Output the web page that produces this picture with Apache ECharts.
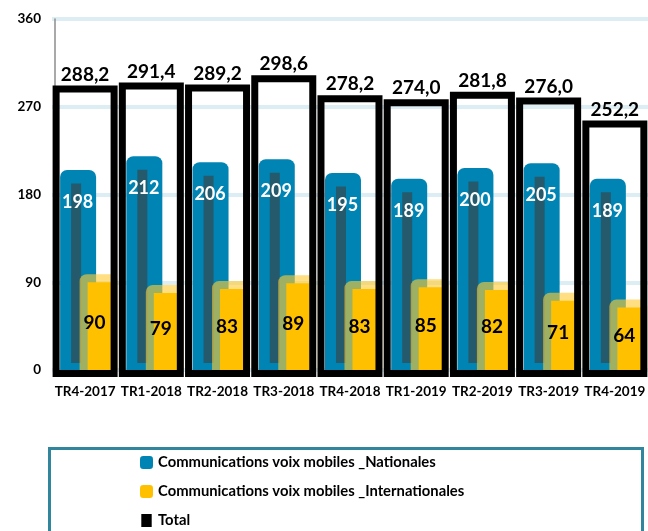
<!DOCTYPE html>
<html>
<head>
<meta charset="utf-8">
<script src="https://cdn.jsdelivr.net/npm/echarts@6/dist/echarts.min.js"></script>
<style>
  html, body { margin: 0; padding: 0; background: #fff; }
  #chart { width: 648px; height: 531px; }
</style>
</head>
<body>
<div id="chart"></div>
<script>
// ---- data ----
const categories = ['TR4-2017','TR1-2018','TR2-2018','TR3-2018','TR4-2018','TR1-2019','TR2-2019','TR3-2019','TR4-2019'];
const nationales = [198, 212, 206, 209, 195, 189, 200, 205, 189];
const internationales = [90, 79, 83, 89, 83, 85, 82, 71, 64];
const total = [288.2, 291.4, 289.2, 298.6, 278.2, 274.0, 281.8, 276.0, 252.2];
const yTicks = { min: 0, max: 360, interval: 90 };
const seriesNames = ['Communications voix mobiles _Nationales', 'Communications voix mobiles _Internationales', 'Total'];

const FONT = 'Lato';
const BLUE = '#0084B4';
const YELLOW = '#FFC000';
const chart = echarts.init(document.getElementById('chart'), null, { renderer: 'canvas' });

function fmtTotal(v) { return v.toFixed(1).replace('.', ','); }

function renderNat(params, api) {
  const i = api.value(0), v = api.value(1);
  const t = api.coord([i, v]);
  const b = api.coord([i, 0]);
  const c = t[0];
  return {
    type: 'group',
    children: [
      { type: 'rect', shape: { x: c - 25, y: t[1] - 7, width: 36, height: b[1] - t[1] + 7, r: [7, 7, 0, 0] },
        style: { fill: BLUE } },
      { type: 'rect', shape: { x: c - 14, y: t[1] + 6.5, width: 10, height: b[1] - t[1] - 13.5 },
        style: { fill: '#245A6C' } },
      { type: 'text', z2: 10, style: { text: String(v), x: c - 7.5, y: t[1] + 25, align: 'center', verticalAlign: 'middle',
        font: 'bold 18px ' + FONT, fill: '#fff' } }
    ]
  };
}

function renderIntl(params, api) {
  const i = api.value(0), v = api.value(1);
  const t = api.coord([i, v]);
  const b = api.coord([i, 0]);
  const c = t[0];
  return {
    type: 'group',
    children: [
      { type: 'rect', shape: { x: c - 5.5, y: t[1] - 8, width: 38, height: b[1] - t[1] + 8, r: [7, 7, 0, 0] },
        style: { fill: 'rgba(255,204,51,0.62)' } },
      { type: 'rect', shape: { x: c + 2.5, y: t[1], width: 24, height: b[1] - t[1] },
        style: { fill: YELLOW } },
      { type: 'text', z2: 10, style: { text: String(v), x: c + 9.5, y: (t[1] + b[1]) / 2 - 3, align: 'center', verticalAlign: 'middle',
        font: 'bold 19px ' + FONT, fill: '#000' } }
    ]
  };
}

function renderTotal(params, api) {
  const i = api.value(0), v = api.value(1);
  const t = api.coord([i, v]);
  const b = api.coord([i, 0]);
  const c = t[0];
  return {
    type: 'group',
    children: [
      { type: 'rect', shape: { x: c - 29, y: t[1], width: 58, height: b[1] - t[1] + 3.5 },
        style: { fill: 'none', stroke: '#000', lineWidth: 7 } },
      { type: 'text', z2: 10, style: { text: fmtTotal(v), x: c, y: t[1] - 5, align: 'center', verticalAlign: 'bottom',
        font: 'bold 19px ' + FONT, fill: '#000' } }
    ]
  };
}

chart.setOption({
  animation: false,
  backgroundColor: '#fff',
  grid: { left: 52, top: 19, width: 602, height: 351 },
  xAxis: {
    type: 'category', data: categories,
    axisLine: { show: false }, axisTick: { show: false },
    axisLabel: { fontFamily: FONT, fontWeight: 'bold', fontSize: 13.5, color: '#000', margin: 15, interval: 0 }
  },
  yAxis: {
    type: 'value', min: yTicks.min, max: yTicks.max, interval: yTicks.interval,
    offset: -3,
    axisLine: { show: true, lineStyle: { color: '#8c8c8c', width: 1.5 } },
    axisTick: { show: false },
    axisLabel: { fontFamily: FONT, fontWeight: 'bold', fontSize: 13.5, color: '#000', margin: 14 },
    splitLine: { show: true, lineStyle: { color: '#DCEEF4', width: 4 } }
  },
  legend: {
    orient: 'vertical',
    left: 135, top: 450, height: 120,
    itemWidth: 13, itemHeight: 13, itemGap: 14,
    selectedMode: false,
    textStyle: { fontFamily: FONT, fontWeight: 'bold', fontSize: 14.8, color: '#000' },
    data: [
      { name: seriesNames[0], icon: 'roundRect', itemStyle: { color: BLUE, borderWidth: 0 } },
      { name: seriesNames[1], icon: 'roundRect', itemStyle: { color: YELLOW, borderWidth: 0 } },
      { name: seriesNames[2], icon: 'path://M0,0H8V10H0Z', itemStyle: { color: '#000', borderWidth: 0 } }
    ]
  },
  graphic: [
    {
      type: 'rect', left: 47, top: 446, z: -1, silent: true,
      shape: { width: 593, height: 120 },
      style: { fill: 'none', stroke: '#31859C', lineWidth: 3 }
    }
  ],
  series: [
    {
      name: seriesNames[0], type: 'custom', z: 2, silent: true,
      itemStyle: { color: BLUE },
      data: nationales.map((v, i) => [i, v]),
      encode: { x: 0, y: 1 },
      renderItem: renderNat
    },
    {
      name: seriesNames[1], type: 'custom', z: 3, silent: true,
      itemStyle: { color: YELLOW },
      data: internationales.map((v, i) => [i, v]),
      encode: { x: 0, y: 1 },
      renderItem: renderIntl
    },
    {
      name: seriesNames[2], type: 'custom', z: 4, silent: true,
      itemStyle: { color: '#000' },
      data: total.map((v, i) => [i, v]),
      encode: { x: 0, y: 1 },
      renderItem: renderTotal
    }
  ]
});
</script>
</body>
</html>
